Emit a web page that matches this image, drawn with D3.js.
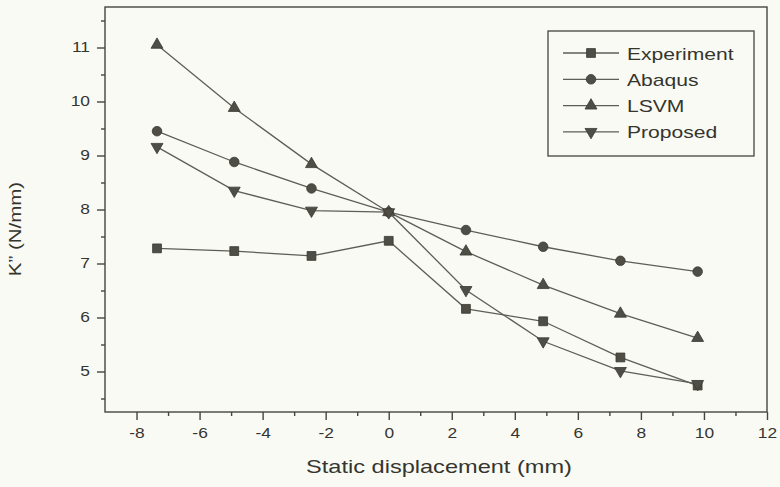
<!DOCTYPE html>
<html>
<head>
<meta charset="utf-8">
<script src="https://cdn.jsdelivr.net/npm/d3@7"></script>
<style>
  body { margin: 0; background: #fafaf5; }
  svg { display: block; }
  text { font-family: "Liberation Sans", Arial, sans-serif; fill: #35352f; }
</style>
</head>
<body>
<script>
'use strict';

// data
const displacement = [-7.35, -4.9, -2.45, 0, 2.45, 4.9, 7.35, 9.8];
const experiment = [7.28, 7.23, 7.14, 7.42, 6.16, 5.93, 5.26, 4.74];
const abaqus     = [9.45, 8.88, 8.39, 7.95, 7.62, 7.31, 7.05, 6.85];
const lsvm       = [11.05, 9.88, 8.84, 7.95, 7.22, 6.6, 6.07, 5.62];
const proposed   = [9.16, 8.35, 7.98, 7.95, 6.51, 5.56, 5.01, 4.77];
const seriesNames = ["Experiment", "Abaqus", "LSVM", "Proposed"];
const xTicks = [-8, -6, -4, -2, 0, 2, 4, 6, 8, 10, 12];
const xMinorTicks = [-7, -5, -3, -1, 1, 3, 5, 7, 9, 11];
const yTicks = [5, 6, 7, 8, 9, 10, 11];
const yMinorTicks = [4.5, 5.5, 6.5, 7.5, 8.5, 9.5, 10.5, 11.5];

(function() {
  let width = 780, height = 487;
  let left = 105, right = 767, top = 7, bottom = 412;
  let ink = "#45453f";

  let svg = d3.select("body").append("svg")
    .attr("width", width)
    .attr("height", height);

  let x = d3.scaleLinear().domain([-9, 12]).range([left, right]);
  let y = d3.scaleLinear().domain([4.25, 11.75]).range([bottom, top]);

  // frame
  svg.append("rect")
    .attr("x", left).attr("y", top)
    .attr("width", right - left).attr("height", bottom - top)
    .attr("fill", "none")
    .attr("stroke", ink)
    .attr("stroke-width", 1.4);

  // axes, major and minor ticks
  function styleAxis(g) {
    g.select(".domain").remove();
    g.selectAll("line").attr("stroke", ink).attr("stroke-width", 1.4);
    g.selectAll("text").style("font-size", "14px").attr("fill", "#35352f");
  }
  let plain = (d) => String(d); // plain hyphen minus, like the original

  svg.append("g")
    .attr("transform", "translate(0," + bottom + ")")
    .call(d3.axisBottom(x).tickValues(xTicks).tickSize(8).tickPadding(8).tickFormat(plain))
    .call(styleAxis);
  svg.append("g")
    .attr("transform", "translate(0," + bottom + ")")
    .call(d3.axisBottom(x).tickValues(xMinorTicks).tickSize(4).tickFormat(""))
    .call(styleAxis);

  svg.append("g")
    .attr("transform", "translate(" + left + ",0)")
    .call(d3.axisLeft(y).tickValues(yTicks).tickSize(8).tickPadding(7).tickFormat(plain))
    .call(styleAxis);
  svg.append("g")
    .attr("transform", "translate(" + left + ",0)")
    .call(d3.axisLeft(y).tickValues(yMinorTicks).tickSize(4).tickFormat(""))
    .call(styleAxis);

  // series
  let allSeries = [experiment, abaqus, lsvm, proposed];
  let symbols = [
    { type: d3.symbolSquare, size: 78, rot: 0 },
    { type: d3.symbolCircle, size: 72, rot: 0 },
    { type: d3.symbolTriangle, size: 62, rot: 0 },
    { type: d3.symbolTriangle, size: 62, rot: 180 }
  ];

  let line = d3.line()
    .x((d) => x(d[0]))
    .y((d) => y(d[1]));

  allSeries.forEach((vals, i) => {
    let pts = displacement.map((dx, j) => [dx, vals[j]]);
    svg.append("path")
      .datum(pts)
      .attr("fill", "none")
      .attr("stroke", "#5e5e58")
      .attr("stroke-width", 1.3)
      .attr("d", line);
    svg.selectAll(".m" + i)
      .data(pts)
      .enter()
      .append("path")
        .attr("class", "m" + i)
        .attr("d", d3.symbol().type(symbols[i].type).size(symbols[i].size))
        .attr("transform", (d) => "translate(" + x(d[0]) + "," + y(d[1]) + ") rotate(" + symbols[i].rot + ")")
        .attr("fill", "#4e4e46")
        .attr("stroke", "#3a3a34")
        .attr("stroke-width", 0.8);
  });

  // legend
  let lg = svg.append("g");
  lg.append("rect")
    .attr("x", 548).attr("y", 31)
    .attr("width", 206).attr("height", 125)
    .attr("fill", "none")
    .attr("stroke", ink)
    .attr("stroke-width", 1.3);

  seriesNames.forEach((name, i) => {
    let cy = 53 + i * 26.3;
    lg.append("line")
      .attr("x1", 563).attr("x2", 619)
      .attr("y1", cy).attr("y2", cy)
      .attr("stroke", "#5e5e58")
      .attr("stroke-width", 1.3);
    lg.append("path")
      .attr("d", d3.symbol().type(symbols[i].type).size(symbols[i].size))
      .attr("transform", "translate(591," + cy + ") rotate(" + symbols[i].rot + ")")
      .attr("fill", "#4e4e46")
      .attr("stroke", "#3a3a34")
      .attr("stroke-width", 0.8);
    lg.append("text")
      .attr("x", 627)
      .attr("y", cy + 6.5)
      .style("font-size", "17px")
      .text(name);
  });

  // axis titles
  svg.append("text")
    .attr("x", 439)
    .attr("y", 473)
    .attr("text-anchor", "middle")
    .style("font-size", "19px")
    .text("Static displacement (mm)");

  svg.append("text")
    .attr("transform", "translate(21,229)rotate(-90)")
    .attr("text-anchor", "middle")
    .style("font-size", "16.5px")
    .text("K\u201D (N/mm)");

  // the original lettering is wide; stretch every label horizontally
  svg.selectAll("text").each(function() {
    let len = this.getComputedTextLength();
    if (len > 0) {
      d3.select(this)
        .attr("textLength", len * 1.24)
        .attr("lengthAdjust", "spacingAndGlyphs");
    }
  });
})();
</script>
</body>
</html>
